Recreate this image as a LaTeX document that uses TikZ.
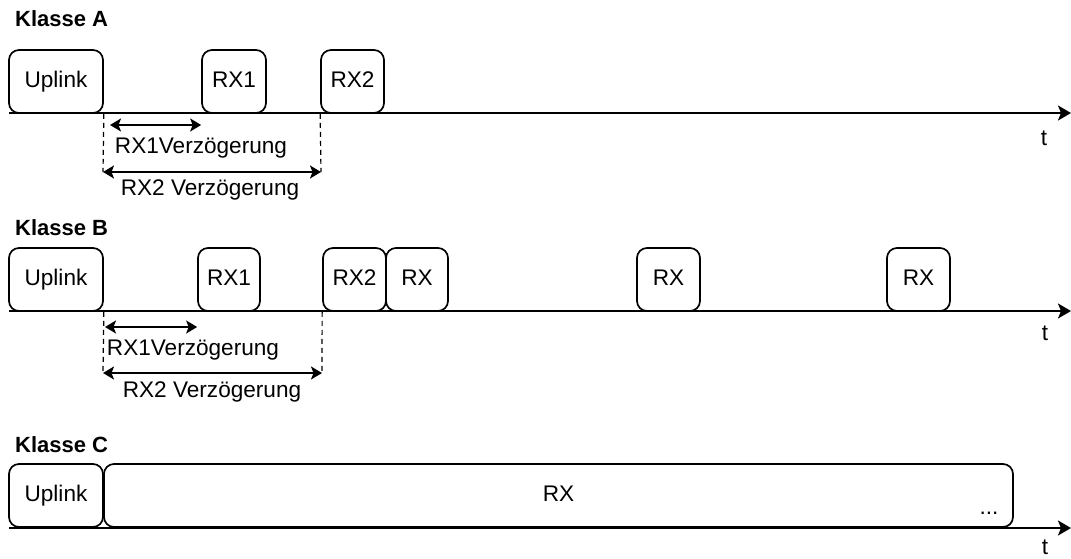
\documentclass[tikz,border=0pt]{standalone}
\usepackage{fontspec}
\setmainfont{Liberation Sans}
\usetikzlibrary{arrows.meta}
\begin{document}
\begin{tikzpicture}[x=1pt,y=-1pt,
 box/.style={draw, line width=1.7pt, rounded corners=10pt, inner sep=0pt, fill=white, minimum height=63pt, text height=16.2pt, text depth=4.5pt, font=\fontsize{22.6}{27}\selectfont},
 lbl/.style={inner sep=0pt, font=\fontsize{22.6}{27}\selectfont},
 ttl/.style={inner sep=0pt, anchor=base west, font=\fontsize{22}{26}\selectfont\bfseries},
 axis/.style={line width=2pt, -{Stealth[length=13pt,width=15pt,inset=3pt]}},
 dim/.style={line width=1.6pt, {Stealth[length=11pt,width=13pt,inset=2.5pt]}-{Stealth[length=11pt,width=13pt,inset=2.5pt]}},
 guide/.style={line width=1.2pt, dash pattern=on 5pt off 4pt}]
\useasboundingbox (0,0) rectangle (1071,558);

% ---------------- Klasse A ----------------
\node[ttl] (ta) at (15,26.5) {Klasse A};
\node[box, minimum width=94pt] (ua) at (56,81.5) {Uplink};
\node[box, minimum width=64pt] (ra1) at (234,81.5) {RX1};
\node[box, minimum width=63pt] (ra2) at (352.5,81.5) {RX2};
\coordinate (aa0) at (9,113);
\coordinate (aa1) at (1071,113);
\draw[axis] (aa0) -- (aa1);
\node[lbl] (tta) at (1044,138) {t};
\coordinate (ag1) at (103,172);
\coordinate (ag2) at (321,172);
\draw[guide] (ua.south east) -- (ag1);
\draw[guide] (ra2.south west) -- (ag2);
\coordinate (ad1) at (110,125);
\draw[dim] (ad1) -- (ad1 -| ra1.south west);
\draw[dim] (ag1) -- (ag2);
\node[lbl] (al1) at (201,148) {RX1Verzögerung};
\node[lbl] (al2) at (210,190) {RX2 Verzögerung};

% ---------------- Klasse B ----------------
\node[ttl] (tb) at (15,235) {Klasse B};
\node[box, minimum width=94pt] (ub) at (56,279.5) {Uplink};
\node[box, minimum width=62pt] (rb1) at (229,279.5) {RX1};
\node[box, minimum width=63pt] (rb2) at (354.5,279.5) {RX2};
\node[box, minimum width=62pt] (rb3) at (417,279.5) {RX};
\node[box, minimum width=63pt] (rb4) at (668.5,279.5) {RX};
\node[box, minimum width=63pt] (rb5) at (918.5,279.5) {RX};
\coordinate (ba0) at (9,311);
\coordinate (ba1) at (1071,311);
\draw[axis] (ba0) -- (ba1);
\node[lbl] (ttb) at (1045,333) {t};
\coordinate (bg1) at (103,373);
\coordinate (bg2) at (322,373);
\draw[guide] (ub.south east) -- (bg1);
\draw[guide] (rb2.south west) -- (bg2);
\coordinate (bd1) at (105,327);
\draw[dim] (bd1) -- (bd1 -| rb1.south west);
\draw[dim] (bg1) -- (bg2);
\node[lbl] (bl1) at (193,350) {RX1Verzögerung};
\node[lbl] (bl2) at (212,392) {RX2 Verzögerung};

% ---------------- Klasse C ----------------
\node[ttl] (tc) at (15,452) {Klasse C};
\node[box, minimum width=94pt] (uc) at (56,495.5) {Uplink};
\node[box, minimum width=909pt] (rc) at (558.5,495.5) {RX};
\node[lbl, anchor=base] (dots) at (989,514) {...};
\coordinate (ca0) at (9,528);
\coordinate (ca1) at (1071,528);
\draw[axis] (ca0) -- (ca1);
\node[lbl] (ttc) at (1045,547.5) {t};
\end{tikzpicture}
\end{document}
